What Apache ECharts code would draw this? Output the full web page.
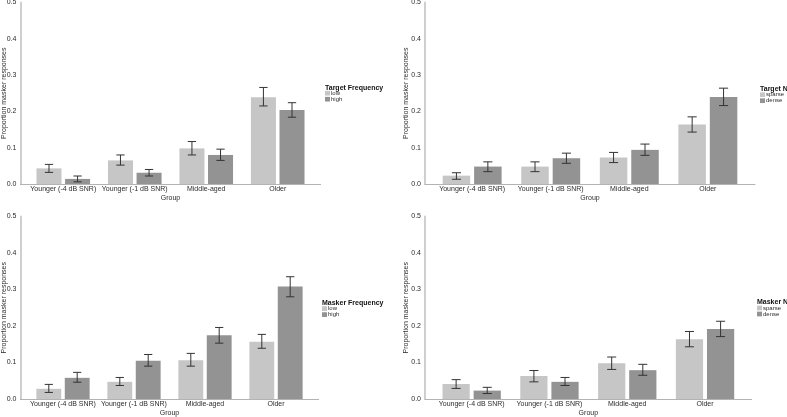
<!DOCTYPE html>
<html><head><meta charset="utf-8">
<script src="https://cdn.jsdelivr.net/npm/echarts@6/dist/echarts.min.js"></script>
<style>html,body{margin:0;padding:0;background:#fff}#c{width:787px;height:417px}</style>
</head><body><div id="c"></div>
<script>
// ---------- DATA ----------
const groups = ['Younger (-4 dB SNR)', 'Younger (-1 dB SNR)', 'Middle-aged', 'Older'];
const yTicks = [0, 0.1, 0.2, 0.3, 0.4, 0.5];

// Panel 1: Target Frequency
const tfLow      = [0.043, 0.065, 0.098, 0.239];
const tfLowLo    = [0.032, 0.052, 0.080, 0.215];
const tfLowHi    = [0.054, 0.080, 0.117, 0.266];
const tfHigh     = [0.014, 0.031, 0.080, 0.204];
const tfHighLo   = [0.006, 0.022, 0.065, 0.184];
const tfHighHi   = [0.022, 0.040, 0.096, 0.224];

// Panel 2: Target N
const tnSparse   = [0.023, 0.048, 0.073, 0.164];
const tnSparseLo = [0.013, 0.034, 0.059, 0.143];
const tnSparseHi = [0.031, 0.061, 0.087, 0.185];
const tnDense    = [0.048, 0.071, 0.094, 0.240];
const tnDenseLo  = [0.034, 0.057, 0.079, 0.216];
const tnDenseHi  = [0.061, 0.085, 0.110, 0.264];

// Panel 3: Masker Frequency
const mfLow      = [0.028, 0.047, 0.106, 0.157];
const mfLowLo    = [0.018, 0.037, 0.090, 0.139];
const mfLowHi    = [0.040, 0.059, 0.125, 0.177];
const mfHigh     = [0.058, 0.105, 0.175, 0.308];
const mfHighLo   = [0.046, 0.090, 0.153, 0.280];
const mfHighHi   = [0.073, 0.122, 0.196, 0.335];

// Panel 4: Masker N
const mnSparse   = [0.041, 0.063, 0.098, 0.164];
const mnSparseLo = [0.029, 0.047, 0.081, 0.143];
const mnSparseHi = [0.053, 0.078, 0.115, 0.185];
const mnDense    = [0.023, 0.047, 0.079, 0.192];
const mnDenseLo  = [0.015, 0.037, 0.065, 0.171];
const mnDenseHi  = [0.032, 0.059, 0.095, 0.213];

const legendTitles = ['Target Frequency', 'Target N', 'Masker Frequency', 'Masker N'];
const levelNames = [['low', 'high'], ['sparse', 'dense'], ['low', 'high'], ['sparse', 'dense']];
const yTitle = 'Proportion masker responses';
const xTitle = 'Group';

// ---------- LAYOUT / STYLE ----------
const FONT = '"Liberation Sans", Arial, sans-serif';
const LIGHT = '#c6c6c6', DARK = '#939393';
const TXT = '#2b2b2b';
const panelData = [
  [[tfLow, tfLowLo, tfLowHi], [tfHigh, tfHighLo, tfHighHi]],
  [[tnSparse, tnSparseLo, tnSparseHi], [tnDense, tnDenseLo, tnDenseHi]],
  [[mfLow, mfLowLo, mfLowHi], [mfHigh, mfHighLo, mfHighHi]],
  [[mnSparse, mnSparseLo, mnSparseHi], [mnDense, mnDenseLo, mnDenseHi]]
];
const layout = [
  {L: 20.4, R: 320.6, T: 2.5, B: 184, lx: 325, ty: 84.2, ly: 90.2, yg: 12.5},
  {L: 425,  R: 755,   T: 2.5, B: 184, lx: 760, ty: 85.5, ly: 91.7, yg: 15},
  {L: 20.4, R: 318.6, T: 216.5, B: 399, lx: 322, ty: 299.2, ly: 305.6, yg: 12.5},
  {L: 425,  R: 751.7, T: 216.5, B: 399, lx: 757, ty: 298.8, ly: 305, yg: 15}
];

const grid = [], xAxis = [], yAxis = [], series = [], legend = [], title = [];
layout.forEach((p, i) => {
  const band = (p.R - p.L) / 4.2;
  const gA = grid.length;
  grid.push({left: p.L, top: p.T, width: p.R - p.L, height: p.B - p.T, containLabel: false, outerBoundsMode: 'none'});
  const gB = grid.length;
  grid.push({left: p.L + 0.1 * band, top: p.T, width: 4 * band, height: p.B - p.T, containLabel: false, outerBoundsMode: 'none'});
  // axis-line grid
  xAxis.push({
    type: 'value', gridIndex: gA, min: 0, max: 1,
    axisLine: {show: true, lineStyle: {color: '#b3b3b3', width: 1}},
    axisTick: {show: false}, axisLabel: {show: false}, splitLine: {show: false},
    name: xTitle, nameLocation: 'middle', nameGap: 11, nameMoveOverlap: false,
    nameTextStyle: {fontSize: 7, color: TXT, fontFamily: FONT}
  });
  yAxis.push({
    type: 'value', gridIndex: gA, min: yTicks[0], max: yTicks[yTicks.length - 1], interval: 0.1,
    axisLine: {show: true, lineStyle: {color: '#cfcfcf', width: 2}},
    axisTick: {show: false}, splitLine: {show: false},
    axisLabel: {fontSize: 7, color: TXT, fontFamily: FONT, margin: 4, formatter: v => v.toFixed(1)},
    name: yTitle, nameLocation: 'middle', nameGap: p.yg, nameRotate: 90, nameMoveOverlap: false,
    nameTextStyle: {fontSize: 7, color: TXT, fontFamily: FONT}
  });
  const xB = xAxis.length;
  xAxis.push({
    type: 'category', gridIndex: gB, data: groups,
    axisLine: {show: false}, axisTick: {show: false}, splitLine: {show: false},
    axisLabel: {interval: 0, fontSize: 7, color: TXT, fontFamily: FONT, margin: 1.5}
  });
  const yB = yAxis.length;
  yAxis.push({type: 'value', gridIndex: gB, min: 0, max: 0.5, show: false});

  const colors = [LIGHT, DARK];
  const offs = [-0.2, 0.2];
  panelData[i].forEach((sd, k) => {
    series.push({
      type: 'bar', name: levelNames[i][k], xAxisIndex: xB, yAxisIndex: yB,
      data: sd[0], barWidth: '35%', barGap: '14.3%',
      itemStyle: {color: colors[k]}, emphasis: {disabled: true}, silent: true
    });
  });
  panelData[i].forEach((sd, k) => {
    const off = offs[k];
    series.push({
      type: 'custom', xAxisIndex: xB, yAxisIndex: yB, silent: true, z: 5,
      data: groups.map((g, j) => [j, sd[1][j], sd[2][j]]),
      encode: {x: 0, y: [1, 2]},
      renderItem: (params, api) => {
        const xi = api.value(0);
        const bw = api.size([1, 0])[0];
        const cx = api.coord([xi, 0])[0] + off * bw;
        const y1 = api.coord([xi, api.value(1)])[1];
        const y2 = api.coord([xi, api.value(2)])[1];
        const hw = bw * 0.058;
        const st = {stroke: '#333', lineWidth: 1, fill: null};
        return {type: 'group', children: [
          {type: 'line', shape: {x1: cx, y1: y1, x2: cx, y2: y2}, style: st},
          {type: 'line', shape: {x1: cx - hw, y1: y1, x2: cx + hw, y2: y1}, style: st},
          {type: 'line', shape: {x1: cx - hw, y1: y2, x2: cx + hw, y2: y2}, style: st}
        ]};
      }
    });
  });
  title.push({
    text: legendTitles[i], left: p.lx, top: p.ty, padding: 0,
    textStyle: {fontSize: 7, fontWeight: 'bold', color: '#111', fontFamily: FONT}
  });
  legend.push({
    data: levelNames[i], left: p.lx, top: p.ly, orient: 'vertical', padding: 0,
    itemWidth: 5, itemHeight: 4.7, itemGap: 0, icon: 'rect', selectedMode: false,
    textStyle: {fontSize: 6, lineHeight: 4.7, color: TXT, fontFamily: FONT, padding: [0, 0, 0, -4]}
  });
});

const chart = echarts.init(document.getElementById('c'), null, {renderer: 'canvas'});
chart.setOption({
  animation: false, backgroundColor: '#fff',
  grid, xAxis, yAxis, series, legend, title
});
</script>
</body></html>
